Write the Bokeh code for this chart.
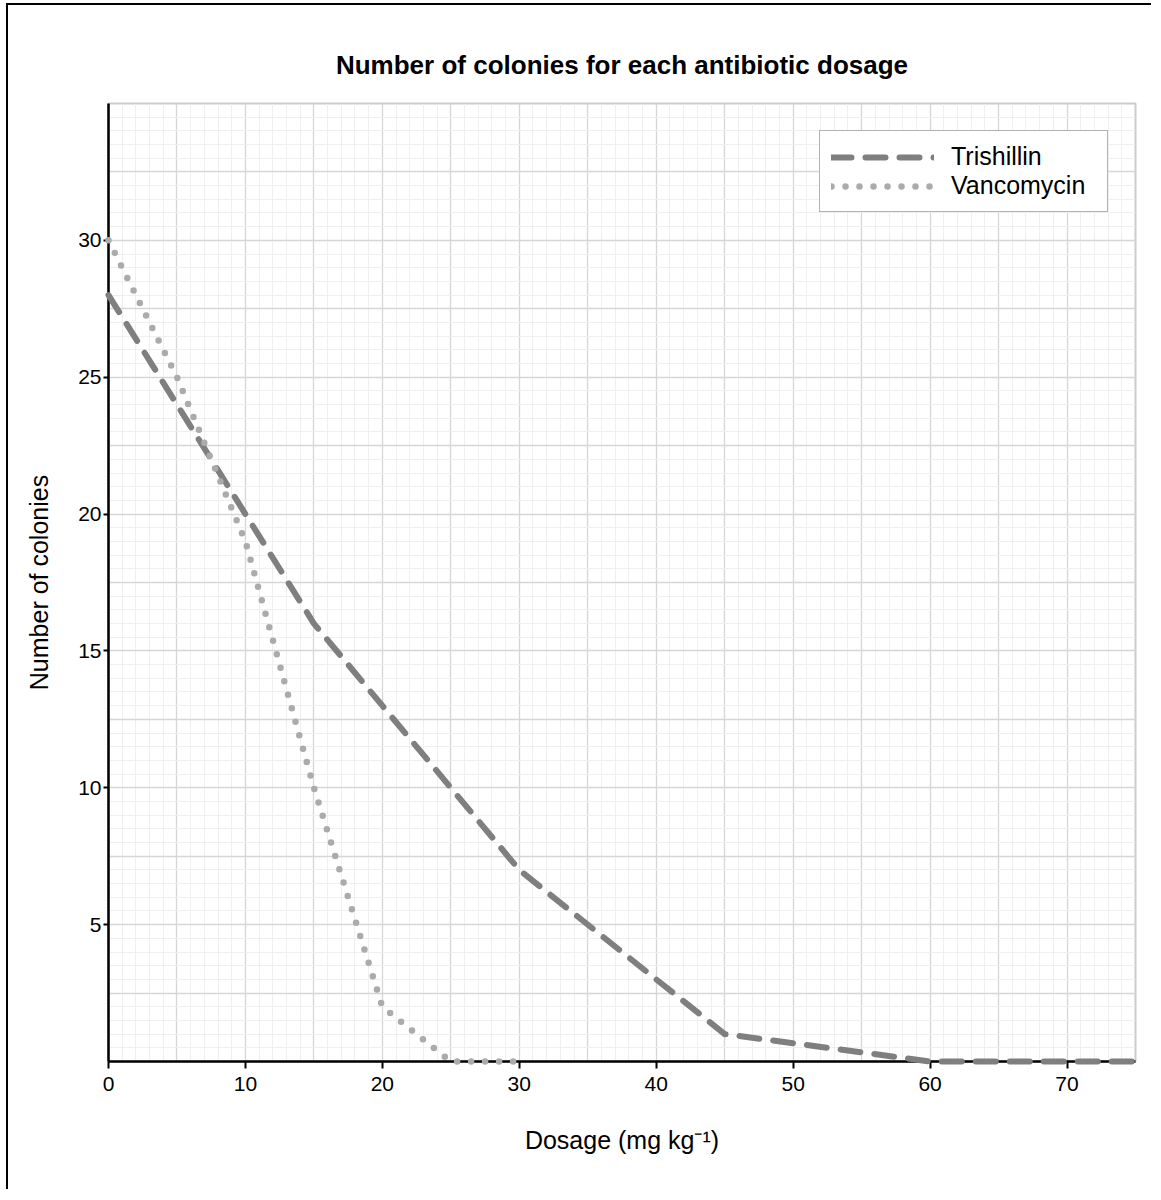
from bokeh.plotting import figure
from bokeh.models import SingleIntervalTicker, FixedTicker, Range1d, Legend, LegendItem
from bokeh.embed import file_html
from bokeh.resources import INLINE

# Data
tri_dose = [0, 10, 15, 20, 25, 30, 40, 45, 60, 75]
tri_colonies = [28, 20, 16, 13, 10, 7, 3, 1, 0, 0]

van_dose = [0, 5, 10, 15, 20, 25, 30]
van_colonies = [30, 25, 19, 10, 2, 0, 0]

x_ticks = [0, 10, 20, 30, 40, 50, 60, 70]
y_ticks = [5, 10, 15, 20, 25, 30]

FONT = "Liberation Sans"

p = figure(width=1145, height=1186, output_backend="svg", toolbar_location=None,
           x_range=Range1d(0, 75), y_range=Range1d(0, 35),
           min_border_left=100, min_border_right=18, min_border_top=98, min_border_bottom=130,
           title="Number of colonies for each antibiotic dosage")
p.styles = {"border-top": "2px solid black", "border-left": "2px solid black",
            "margin-left": "6px", "margin-top": "3px"}

p.title.align = "center"
p.title.text_font = FONT
p.title.text_font_size = "26px"
p.title.text_font_style = "bold"
p.title.text_color = "black"
p.title.standoff = 48

# grids
p.xgrid.ticker = SingleIntervalTicker(interval=5, num_minor_ticks=5)
p.ygrid.ticker = SingleIntervalTicker(interval=2.5, num_minor_ticks=5)
for g in (p.xgrid, p.ygrid):
    g.grid_line_color = "#d6d6d6"
    g.grid_line_width = 1.3
    g.minor_grid_line_color = "#efefef"
    g.minor_grid_line_width = 1

p.outline_line_color = "#cccccc"
p.outline_line_width = 2

# axes
p.xaxis.ticker = FixedTicker(ticks=x_ticks)
p.yaxis.ticker = FixedTicker(ticks=y_ticks)
for ax in (p.xaxis, p.yaxis):
    ax.axis_line_color = "black"
    ax.axis_line_width = 2.5
    ax.major_tick_line_color = "black"
    ax.major_tick_line_width = 2
    ax.major_tick_in = 0
    ax.minor_tick_line_color = None
    ax.major_label_text_font = FONT
    ax.major_label_text_font_size = "21px"
    ax.major_label_text_color = "black"
    ax.axis_label_text_font = FONT
    ax.axis_label_text_font_size = "25px"
    ax.axis_label_text_font_style = "normal"
    ax.axis_label_text_color = "black"
p.xaxis.major_tick_out = 7
p.yaxis.major_tick_out = 5
p.xaxis.major_label_standoff = 8
p.yaxis.major_label_standoff = 2
p.xaxis.axis_label = "Dosage (mg kg\u207b\u00b9)"
p.yaxis.axis_label = "Number of colonies"
p.xaxis.axis_label_standoff = 32
p.yaxis.axis_label_standoff = 22

r1 = p.line(tri_dose, tri_colonies, line_color="#7f7f7f", line_width=6,
            line_dash="20 14", line_cap="round", line_join="round", level="overlay")
r2 = p.line(van_dose, van_colonies, line_color="#ababab", line_width=6.5,
            line_dash="0 14", line_cap="round", line_join="round", level="overlay")

legend = Legend(items=[LegendItem(label="Trishillin", renderers=[r1]),
                       LegendItem(label="Vancomycin", renderers=[r2])],
                location="top_right")
legend.margin = 27
legend.padding = 11
legend.spacing = 0
legend.glyph_width = 103
legend.glyph_height = 28
legend.label_standoff = 17
legend.label_width = 145
legend.label_text_font = FONT
legend.label_text_font_size = "25px"
legend.label_text_color = "black"
legend.border_line_color = "#666666"
legend.border_line_width = 1
legend.background_fill_color = "white"
legend.background_fill_alpha = 1
p.add_layout(legend, "center")

open("out.html", "w").write(file_html(p, INLINE))
